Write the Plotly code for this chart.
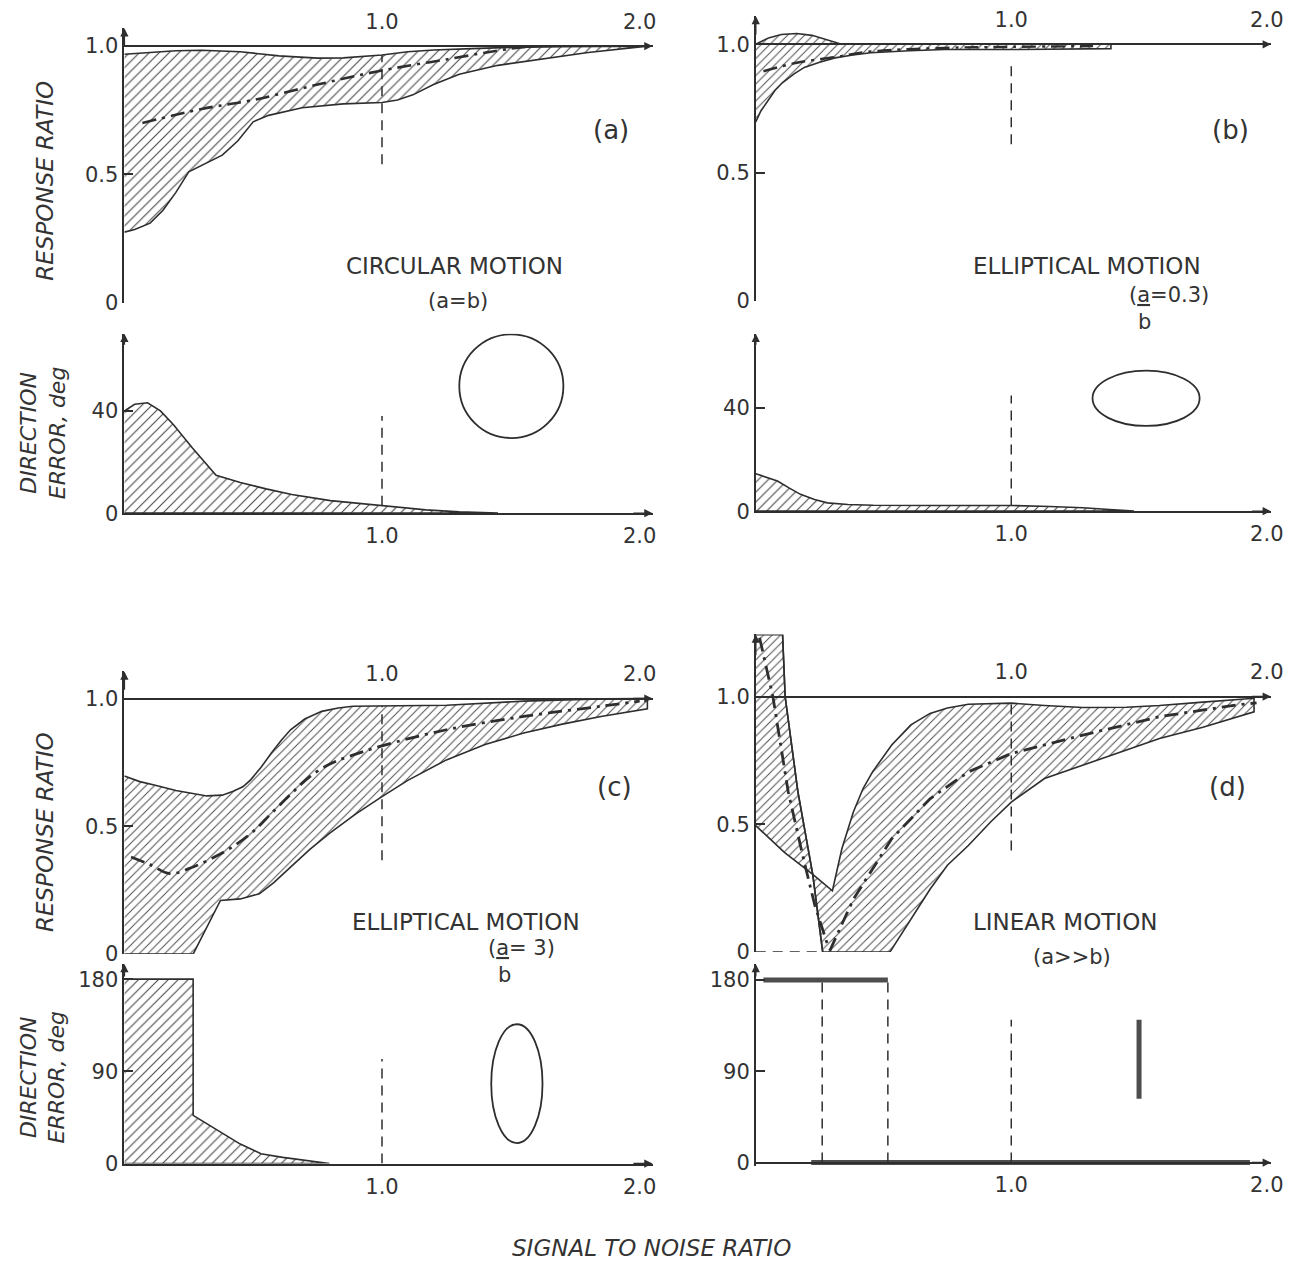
import plotly.graph_objects as go

# figure size, and the mapping of the page (8px body margin, page scaled into the window)
W, H = 1299, 1275
PAD = 8
SX, SY = 0.9878, 0.9885

# ---------------- data ----------------
# (a) circular motion – response ratio band
A_UP_X = [0, 0.1, 0.2, 0.3, 0.45, 0.6, 0.75, 0.85, 1.0, 1.1, 1.2, 1.35, 1.5, 1.7, 2.03]
A_UP_Y = [0.968, 0.975, 0.982, 0.984, 0.978, 0.962, 0.953, 0.954, 0.965, 0.978, 0.985, 0.99, 0.995, 0.998, 1.0]
A_LO_X = [0, 0.04, 0.1, 0.15, 0.2, 0.25, 0.32, 0.38, 0.44, 0.5, 0.56, 0.69, 0.85, 1.0, 1.06, 1.12, 1.2, 1.3, 1.45, 1.6, 1.8, 2.03]
A_LO_Y = [0.275, 0.285, 0.31, 0.36, 0.43, 0.51, 0.545, 0.575, 0.63, 0.705, 0.73, 0.76, 0.775, 0.78, 0.79, 0.81, 0.85, 0.89, 0.925, 0.948, 0.975, 1.0]
A_MID_X = [0.07, 0.3, 0.5, 0.75, 1.0, 1.25, 1.5, 1.6]
A_MID_Y = [0.70, 0.755, 0.79, 0.85, 0.905, 0.948, 0.99, 1.0]
A_REF_Y = [0.54, 0.965]
# (a) direction error
AD_X = [0, 0.04, 0.09, 0.14, 0.19, 0.265, 0.356, 0.45, 0.55, 0.65, 0.8, 1.0, 1.17, 1.3, 1.45]
AD_Y = [40, 42.6, 43.2, 40, 34.7, 25.4, 14.8, 12, 9.5, 7.3, 4.9, 2.9, 1.3, 0.5, 0]
AD_REF_Y = [2.9, 38]

# (b) elliptical a/b = 0.3
B_UP_X = [0, 0.05, 0.1, 0.16, 0.22, 0.28, 0.336, 1.39]
B_UP_Y = [1.0, 1.025, 1.038, 1.042, 1.035, 1.018, 1.0, 1.0]
B_LO_X = [0, 0.02, 0.046, 0.075, 0.104, 0.15, 0.19, 0.25, 0.31, 0.38, 0.45, 0.6, 0.74, 1.03, 1.39]
B_LO_Y = [0.697, 0.74, 0.78, 0.82, 0.85, 0.885, 0.91, 0.93, 0.947, 0.958, 0.967, 0.975, 0.98, 0.98, 0.983]
B_MID_X = [0.03, 0.16, 0.31, 0.45, 0.74, 1.0, 1.32]
B_MID_Y = [0.895, 0.928, 0.95, 0.972, 0.986, 0.99, 0.993]
B_REF_Y = [0.61, 0.94]
BD_X = [0, 0.04, 0.085, 0.13, 0.175, 0.23, 0.28, 0.36, 0.46, 0.7, 1.0, 1.15, 1.28, 1.48]
BD_Y = [14.5, 13.3, 11.7, 9, 6.5, 4.5, 3.2, 2.6, 2.3, 2.2, 2.2, 1.8, 1.3, 0]
BD_REF_Y = [2.2, 44.8]

# (c) elliptical a/b = 3
C_UP_X = [0, 0.06, 0.116, 0.2, 0.32, 0.38, 0.42, 0.46, 0.49, 0.53, 0.57, 0.61, 0.645, 0.7, 0.766, 0.83, 0.887, 1.0, 1.25, 1.55, 1.85, 2.03]
C_UP_Y = [0.697, 0.675, 0.662, 0.64, 0.619, 0.622, 0.636, 0.655, 0.682, 0.73, 0.786, 0.838, 0.878, 0.92, 0.95, 0.963, 0.97, 0.972, 0.974, 0.99, 0.999, 1.0]
C_LO_X = [0, 0.267, 0.373, 0.45, 0.524, 0.58, 0.645, 0.72, 0.796, 0.9, 1.0, 1.1, 1.25, 1.4, 1.55, 1.7, 1.85, 2.03]
C_LO_Y = [0, 0, 0.21, 0.216, 0.236, 0.28, 0.34, 0.41, 0.472, 0.55, 0.616, 0.68, 0.76, 0.82, 0.865, 0.9, 0.93, 0.96]
C_MID_X = [0.026, 0.1, 0.177, 0.267, 0.35, 0.42, 0.5, 0.57, 0.65, 0.72, 0.8, 0.87, 1.0, 1.25, 1.55, 1.85, 2.0]
C_MID_Y = [0.38, 0.35, 0.315, 0.341, 0.38, 0.42, 0.48, 0.55, 0.63, 0.695, 0.745, 0.773, 0.815, 0.878, 0.93, 0.97, 0.99]
C_REF_Y = [0.367, 0.972]
CD_X = [0, 0.267, 0.267, 0.373, 0.45, 0.53, 0.615, 0.796]
CD_Y = [180, 180, 47, 30.5, 19, 9.6, 6, 0]
CD_REF_Y = [0, 102]

# (d) linear motion
D_TOP = 1.242
D_STEEP_X = [0.105, 0.115, 0.165, 0.223, 0.262]
D_STEEP_Y = [1.242, 1.0, 0.627, 0.304, 0.0]
D_DIAG_X = [0, 0.112, 0.223, 0.30]
D_DIAG_Y = [0.495, 0.39, 0.304, 0.24]
D_UP_X = [0.30, 0.337, 0.382, 0.42, 0.457, 0.532, 0.607, 0.682, 0.75, 0.832, 1.0, 1.13, 1.28, 1.45, 1.58, 1.75, 1.95]
D_UP_Y = [0.24, 0.404, 0.548, 0.64, 0.705, 0.81, 0.889, 0.934, 0.955, 0.97, 0.974, 0.965, 0.957, 0.958, 0.965, 0.978, 0.993]
D_LO_X = [0.262, 0.525, 0.592, 0.682, 0.75, 0.832, 0.92, 1.0, 1.13, 1.28, 1.45, 1.58, 1.75, 1.95]
D_LO_Y = [0, 0, 0.102, 0.246, 0.34, 0.417, 0.51, 0.587, 0.679, 0.731, 0.79, 0.836, 0.88, 0.94]
D_MID_X = [0.015, 0.067, 0.127, 0.187, 0.232, 0.285, 0.292, 0.382, 0.532, 0.682, 0.832, 1.0, 1.28, 1.58, 1.88, 1.96]
D_MID_Y = [1.23, 1.0, 0.627, 0.364, 0.18, 0.017, 0.01, 0.207, 0.443, 0.6, 0.705, 0.777, 0.849, 0.921, 0.967, 0.975]
D_ZERO_X = [0, 0.262]
D_REF_Y = [0.397, 0.974]
DD_TOP_X = [0.03, 0.517]
DD_TOP_Y = [180, 180]
DD_BOT_X = [0.217, 1.934]
DD_BOT_Y = [0, 0]
DD_VLINES_X = [0.26, 0.517]
DD_VLINES_Y = [0, 180]
DD_REF_Y = [0, 141]
DD_BAR_X = 1.50
DD_BAR_Y = [63, 141]

# ---------------- helpers ----------------
INK = '#2e2e2e'
FONT = 'DejaVu Sans'


def fx(p):
    return (p / SX - PAD) / W


def fy(p):
    return 1 - (p / SY - PAD) / H


fig = go.Figure()


def hatch(size=7):
    return dict(shape='/', size=size, solidity=0.16, fgcolor='#4a4a4a',
                bgcolor='rgba(0,0,0,0)', fillmode='replace')


def poly(xs, ys, n, size=7, width=1.6):
    fig.add_trace(go.Scatter(x=xs, y=ys, xaxis='x' + n, yaxis='y' + n, mode='lines',
                             fill='toself', fillcolor='rgba(0,0,0,0)', fillpattern=hatch(size),
                             line=dict(color=INK, width=width), hoverinfo='skip', showlegend=False))


def line(xs, ys, n, dash='solid', width=1.6, shape='linear', color=INK):
    fig.add_trace(go.Scatter(x=xs, y=ys, xaxis='x' + n, yaxis='y' + n, mode='lines',
                             line=dict(color=color, width=width, dash=dash, shape=shape),
                             hoverinfo='skip', showlegend=False))


DASHDOT = '14px,6px,3px,6px'
DASH = '10px,7px'

# (a)
poly(A_UP_X + A_LO_X[::-1], A_UP_Y + A_LO_Y[::-1], '1')
line(A_MID_X, A_MID_Y, '1', dash=DASHDOT, width=2.6, shape='spline')
line([1, 1], A_REF_Y, '1', dash=DASH, width=1.5)
poly(AD_X + [0], AD_Y + [0], '2')
line([1, 1], AD_REF_Y, '2', dash=DASH, width=1.5)

# (b)
poly(B_UP_X + B_LO_X[::-1], B_UP_Y + B_LO_Y[::-1], '3', size=6)
line(B_MID_X, B_MID_Y, '3', dash=DASHDOT, width=2.4, shape='spline')
line([1, 1], B_REF_Y, '3', dash=DASH, width=1.5)
poly(BD_X + [0], BD_Y + [0], '4')
line([1, 1], BD_REF_Y, '4', dash=DASH, width=1.5)

# (c)
poly(C_UP_X + C_LO_X[::-1], C_UP_Y + C_LO_Y[::-1], '5', size=6)
line(C_MID_X, C_MID_Y, '5', dash=DASHDOT, width=2.8, shape='spline')
line([1, 1], C_REF_Y, '5', dash=DASH, width=1.5)
poly(CD_X + [0], CD_Y + [0], '6')
line([1, 1], CD_REF_Y, '6', dash=DASH, width=1.5)

# (d)
left_x = [0] + D_STEEP_X[:4] + D_DIAG_X[:3][::-1]
left_y = [D_TOP] + D_STEEP_Y[:4] + D_DIAG_Y[:3][::-1]
poly(left_x, left_y, '7', size=6)
main_x = D_DIAG_X[2:] + D_UP_X[1:] + D_LO_X[::-1] + [D_STEEP_X[3]]
main_y = D_DIAG_Y[2:] + D_UP_Y[1:] + D_LO_Y[::-1] + [D_STEEP_Y[3]]
poly(main_x, main_y, '7', size=6)
line(D_STEEP_X, D_STEEP_Y, '7', width=1.6)
line(D_MID_X, D_MID_Y, '7', dash=DASHDOT, width=2.8)
line(D_ZERO_X, [0, 0], '7', dash=DASH, width=1.5)
line([1, 1], D_REF_Y, '7', dash=DASH, width=1.5)
line(DD_TOP_X, DD_TOP_Y, '8', width=5, color='#4d4d4d')
line(DD_BOT_X, DD_BOT_Y, '8', width=5, color='#4d4d4d')
for xv in DD_VLINES_X:
    line([xv, xv], DD_VLINES_Y, '8', dash=DASH, width=1.5)
line([1, 1], DD_REF_Y, '8', dash=DASH, width=1.5)
line([DD_BAR_X, DD_BAR_X], DD_BAR_Y, '8', width=5, color='#4d4d4d')

# ---------------- axes ----------------
LEFT = (124, 651, 2.05)
RIGHT = (754, 1268, 2.016)
# n: (x geometry, y px of 0, y top px, y min, y max, ticks, labels, y px of the 1.0 line)
PANELS = {
    '1': (LEFT, 302, 28, 0, 1.07, [0, 0.5, 1.0], ['0', '0.5', '1.0'], 46),
    '2': (LEFT, 512, 333, 0, 70.2, [0, 40], ['0', '40'], None),
    '3': (RIGHT, 300, 16, 0, 1.11, [0, 0.5, 1.0], ['0', '0.5', '1.0'], 44),
    '4': (RIGHT, 510, 333, 0, 68.7, [0, 40], ['0', '40'], None),
    '5': (LEFT, 952, 670, 0, 1.106, [0, 0.5, 1.0], ['0', '0.5', '1.0'], 697),
    '6': (LEFT, 1161, 962, 0, 194.7, [0, 90, 180], ['0', '90', '180'], None),
    '7': (RIGHT, 950, 633, 0, 1.243, [0, 0.5, 1.0], ['0', '0.5', '1.0'], 695),
    '8': (RIGHT, 1160, 962, -3, 195.8, [0, 90, 180], ['0', '90', '180'], None),
}
tickfont = dict(family=FONT, size=21, color='#333333')
annotations = []
for n, (xg, y0px, yt, ymin, ymax, tv, tt, line1) in PANELS.items():
    x0, x1, xmax = xg
    k = '' if n == '1' else n
    ppu = (y0px - yt) / ymax
    yb = y0px - ymin * ppu
    xa = dict(domain=[fx(x0), fx(x1)], range=[0, xmax], showgrid=False, zeroline=False,
              showline=True, linecolor=INK, linewidth=1.6, tickvals=[1, 2], ticktext=['1.0', '2.0'],
              ticks='', tickfont=tickfont, fixedrange=True)
    if line1 is not None:
        xa.update(anchor='free', position=fy(line1), side='top', ticklabelstandoff=8)
    elif ymin != 0:
        xa.update(anchor='free', position=fy(y0px), side='bottom', ticklabelstandoff=3)
    else:
        xa.update(anchor='y' + k, side='bottom', ticklabelstandoff=3)
    ya = dict(domain=[fy(yb), fy(yt)], range=[ymin, ymax], anchor='x' + k, showgrid=False,
              zeroline=False, showline=True, linecolor=INK, linewidth=1.6, tickvals=tv, ticktext=tt,
              ticks='inside', ticklen=9, tickwidth=1.5, tickcolor=INK, tickfont=tickfont,
              fixedrange=True)
    fig.layout['xaxis' + k] = xa
    fig.layout['yaxis' + k] = ya
    yline = 1.0 if line1 is not None else 0
    # arrowheads at the axis ends
    annotations.append(dict(x=xmax, y=yline, ax=xmax - 0.08, ay=yline, xref='x' + n, yref='y' + n,
                            axref='x' + n, ayref='y' + n, text='', showarrow=True, arrowhead=2,
                            arrowsize=1.1, arrowwidth=1.5, arrowcolor=INK, standoff=0))
    annotations.append(dict(x=0, y=ymax, ax=0, ay=ymax * 0.93, xref='x' + n, yref='y' + n,
                            axref='x' + n, ayref='y' + n, text='', showarrow=True, arrowhead=2,
                            arrowsize=1.1, arrowwidth=1.5, arrowcolor=INK, standoff=0))

# icons of the motion shape
shapes = [
    dict(type='circle', xref='x2', yref='y2', x0=1.30, x1=1.704, y0=29.4, y1=70.0,
         line=dict(color=INK, width=1.8)),
    dict(type='circle', xref='x4', yref='y4', x0=1.318, x1=1.737, y0=33, y1=54.4,
         line=dict(color=INK, width=1.8)),
    dict(type='circle', xref='x6', yref='y6', x0=1.424, x1=1.623, y0=20, y1=136,
         line=dict(color=INK, width=1.8)),
]


def label(text, xpx, ypx, size, italic=False, angle=0):
    annotations.append(dict(text=text, x=fx(xpx), y=fy(ypx), xref='paper', yref='paper',
                            showarrow=False, textangle=angle, xanchor='center', yanchor='middle',
                            font=dict(family=FONT, size=size, color='#333333',
                                      style='italic' if italic else 'normal')))


label('(a)', 610, 130, 26)
label('(b)', 1228, 130, 26)
label('(c)', 613, 785, 26)
label('(d)', 1225, 785, 26)
label('CIRCULAR MOTION', 453, 265, 23)
label('(a=b)', 457, 300, 21)
label('ELLIPTICAL MOTION', 1085, 265, 23)
label("(<span style='text-decoration:underline'>a</span>=0.3)", 1166, 294, 21)
label('b', 1142, 321, 21)
label('ELLIPTICAL MOTION', 465, 920, 23)
label("(<span style='text-decoration:underline'>a</span>= 3)", 520, 946, 21)
label('b', 503, 973, 21)
label('LINEAR MOTION', 1063, 920, 23)
label('(a&gt;&gt;b)', 1070, 955, 21)
label('RESPONSE RATIO', 45, 180, 23, italic=True, angle=-90)
label('RESPONSE RATIO', 45, 830, 23, italic=True, angle=-90)
label('DIRECTION<br>ERROR, deg', 43, 432, 22, italic=True, angle=-90)
label('DIRECTION<br>ERROR, deg', 43, 1075, 22, italic=True, angle=-90)
label('SIGNAL TO NOISE RATIO', 650, 1245, 23, italic=True)

fig.update_layout(width=W, height=H, margin=dict(l=0, r=0, t=0, b=0), autosize=False,
                  paper_bgcolor='white', plot_bgcolor='rgba(0,0,0,0)', showlegend=False,
                  annotations=annotations, shapes=shapes)

fig.write_html('out.html')
